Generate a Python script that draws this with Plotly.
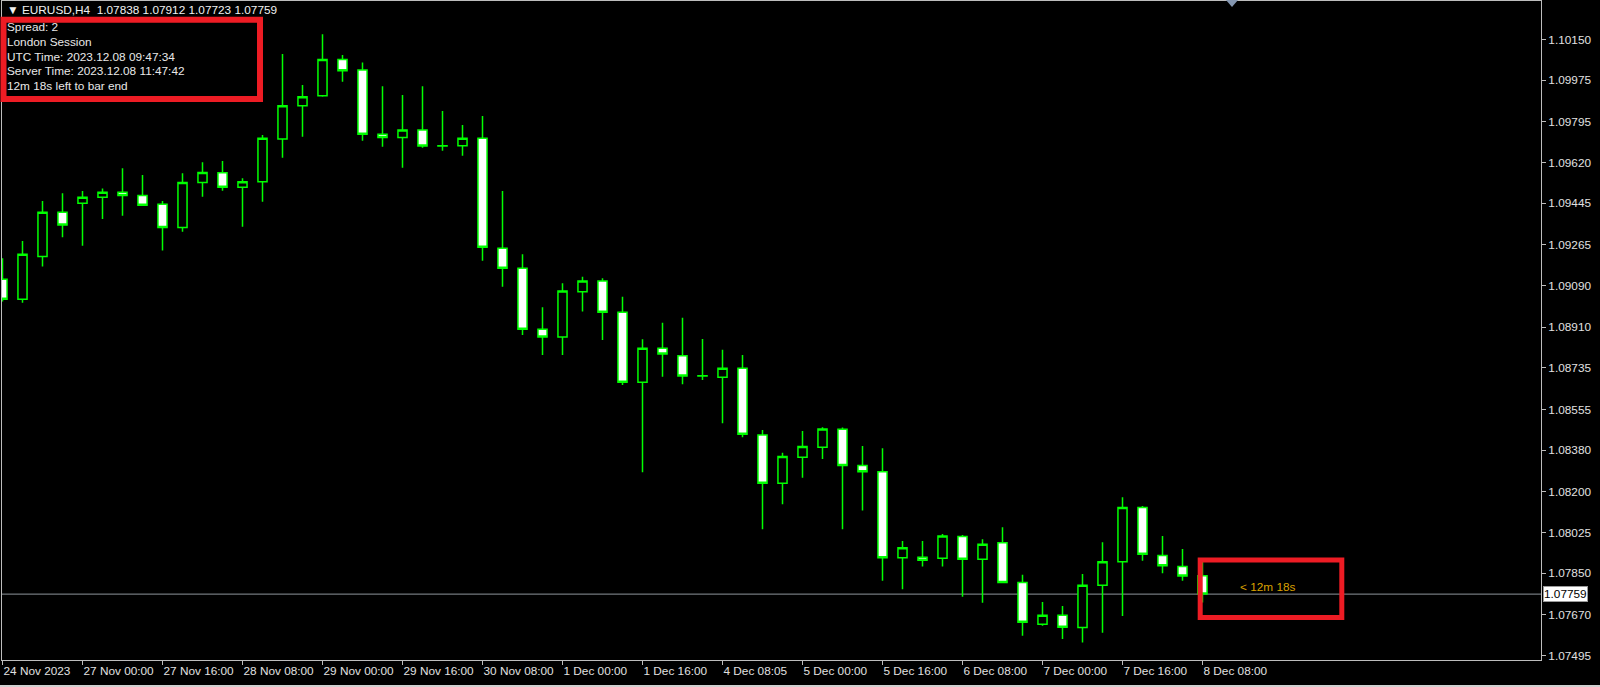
import plotly.graph_objects as go

# ---------------- data ----------------
bar_index = list(range(61))

opens = [1.09116, 1.09030, 1.09215, 1.09405, 1.09444, 1.09470, 1.09491, 1.09477, 1.09440, 1.09340,
         1.09534, 1.09576, 1.09513, 1.09537, 1.09721, 1.09864, 1.09908, 1.10064, 1.10018, 1.09742,
         1.09728, 1.09760, 1.09692, 1.09692, 1.09724, 1.09250, 1.09164, 1.08901, 1.08868, 1.09063,
         1.09109, 1.08974, 1.08672, 1.08819, 1.08787, 1.08699, 1.08694, 1.08733, 1.08445, 1.08237,
         1.08349, 1.08392, 1.08470, 1.08313, 1.08287, 1.07916, 1.07918, 1.07914, 1.08007, 1.07909,
         1.07981, 1.07809, 1.07629, 1.07668, 1.07615, 1.07797, 1.07899, 1.08132, 1.07925, 1.07878,
         1.07838]
highs = [1.09207, 1.09281, 1.09454, 1.09487, 1.09497, 1.09508, 1.09595, 1.09566, 1.09454, 1.09573,
         1.09621, 1.09626, 1.09552, 1.09738, 1.10087, 1.09954, 1.10173, 1.10083, 1.10051, 1.09949,
         1.09911, 1.09949, 1.09842, 1.09781, 1.09820, 1.09497, 1.09224, 1.08996, 1.09099, 1.09127,
         1.09121, 1.09041, 1.08858, 1.08929, 1.08951, 1.08859, 1.08812, 1.08790, 1.08467, 1.08369,
         1.08462, 1.08478, 1.08477, 1.08398, 1.08388, 1.07988, 1.07988, 1.08018, 1.08014, 1.07996,
         1.08047, 1.07842, 1.07725, 1.07708, 1.07846, 1.07983, 1.08177, 1.08139, 1.08010, 1.07954,
         1.07912]
lows = [1.09020, 1.09015, 1.09171, 1.09297, 1.09261, 1.09376, 1.09390, 1.09434, 1.09240, 1.09321,
        1.09472, 1.09498, 1.09343, 1.09451, 1.09640, 1.09731, 1.09903, 1.09968, 1.09714, 1.09688,
        1.09597, 1.09683, 1.09670, 1.09649, 1.09196, 1.09084, 1.08876, 1.08790, 1.08790, 1.08977,
        1.08855, 1.08661, 1.08284, 1.08696, 1.08664, 1.08682, 1.08496, 1.08435, 1.08039, 1.08146,
        1.08261, 1.08342, 1.08039, 1.08119, 1.07817, 1.07780, 1.07878, 1.07878, 1.07748, 1.07722,
        1.07806, 1.07580, 1.07623, 1.07565, 1.07550, 1.07593, 1.07665, 1.07903, 1.07849, 1.07817,
        1.07723]
closes = [1.09030, 1.09224, 1.09405, 1.09350, 1.09470, 1.09491, 1.09477, 1.09436, 1.09340, 1.09534,
          1.09577, 1.09513, 1.09537, 1.09724, 1.09864, 1.09903, 1.10064, 1.10015, 1.09742, 1.09728,
          1.09760, 1.09691, 1.09691, 1.09724, 1.09254, 1.09164, 1.08901, 1.08868, 1.09066, 1.09109,
          1.08974, 1.08672, 1.08819, 1.08794, 1.08699, 1.08700, 1.08733, 1.08448, 1.08237, 1.08352,
          1.08395, 1.08471, 1.08313, 1.08287, 1.07916, 1.07959, 1.07905, 1.08010, 1.07909, 1.07974,
          1.07809, 1.07638, 1.07668, 1.07616, 1.07797, 1.07899, 1.08132, 1.07931, 1.07881, 1.07837,
          1.07759]

x_tick_bars = [0, 4, 8, 12, 16, 20, 24, 28, 32, 36, 40, 44, 48, 52, 56, 60]
x_tick_labels = ["24 Nov 2023", "27 Nov 00:00", "27 Nov 16:00", "28 Nov 08:00", "29 Nov 00:00",
                 "29 Nov 16:00", "30 Nov 08:00", "1 Dec 00:00", "1 Dec 16:00", "4 Dec 08:05",
                 "5 Dec 00:00", "5 Dec 16:00", "6 Dec 08:00", "7 Dec 00:00", "7 Dec 16:00",
                 "8 Dec 08:00"]

y_tick_values = [1.10150, 1.09975, 1.09795, 1.09620, 1.09445, 1.09265, 1.09090, 1.08910,
                 1.08735, 1.08555, 1.08380, 1.08200, 1.08025, 1.07850, 1.07670, 1.07495]
y_tick_labels = ["%.5f" % v for v in y_tick_values]

current_price = 1.07759
title_text = "▼ EURUSD,H4  1.07838 1.07912 1.07723 1.07759"
info_lines = ["Spread: 2", "London Session", "UTC Time: 2023.12.08 09:47:34",
              "Server Time: 2023.12.08 11:47:42", "12m 18s left to bar end"]
countdown_text = "< 12m 18s"

# ---------------- layout helpers ----------------
W, H = 1600, 687
ML, MR, MT, MB = 2, 59, 1, 27
PW, PH = W - ML - MR, H - MT - MB


def px_x(px):
    return (px - ML) / PW


def px_y(py):
    return 1 - (py - MT) / PH


FONT = "Liberation Sans, Arial, sans-serif"
FS = 11.8
GREEN = "#00ff00"
FRAME = "#bdbdbd"

fig = go.Figure()
fig.add_trace(go.Candlestick(
    x=bar_index, open=opens, high=highs, low=lows, close=closes,
    increasing=dict(line=dict(color=GREEN, width=1.5), fillcolor="#000000"),
    decreasing=dict(line=dict(color=GREEN, width=1.5), fillcolor="#ffffff"),
    whiskerwidth=0, hoverinfo="skip", showlegend=False,
))

shapes = []
# current price line
shapes.append(dict(type="line", xref="paper", yref="y", x0=0, x1=1,
                   y0=current_price, y1=current_price,
                   line=dict(color="#8f959c", width=1), layer="below"))
# red highlight boxes
shapes.append(dict(type="rect", xref="paper", yref="paper",
                   x0=px_x(3.5), x1=px_x(260), y0=px_y(19.7), y1=px_y(99),
                   line=dict(color="#ed1c24", width=6)))
shapes.append(dict(type="rect", xref="paper", yref="paper",
                   x0=px_x(1200.2), x1=px_x(1341.8), y0=px_y(560), y1=px_y(617.5),
                   line=dict(color="#ed1c24", width=5)))
# chart shift marker at top
shapes.append(dict(type="path", xref="paper", yref="paper",
                   path="M %f %f L %f %f L %f %f Z" % (px_x(1226), px_y(0), px_x(1238), px_y(0),
                                                       px_x(1232), px_y(7)),
                   fillcolor="#8496b0", line=dict(width=0)))
# window bottom border
shapes.append(dict(type="line", xref="paper", yref="paper",
                   x0=px_x(0), x1=px_x(W), y0=px_y(686), y1=px_y(686),
                   line=dict(color="#d0d0d0", width=2)))

annotations = []
annotations.append(dict(xref="paper", yref="paper", x=px_x(5), y=px_y(10.5),
                        xanchor="left", yanchor="middle", showarrow=False,
                        text=title_text, font=dict(family=FONT, size=FS, color="#f0f0f0")))
for i, line in enumerate(info_lines):
    annotations.append(dict(xref="paper", yref="paper", x=px_x(5), y=px_y(27 + 14.8 * i),
                            xanchor="left", yanchor="middle", showarrow=False,
                            text=line, font=dict(family=FONT, size=FS, color="#e8e8e8")))
annotations.append(dict(xref="x", yref="y", x=bar_index[-1], y=current_price,
                        xanchor="left", yanchor="middle", xshift=35, yshift=7,
                        showarrow=False, text=countdown_text,
                        font=dict(family=FONT, size=FS, color="#d9a100")))
annotations.append(dict(xref="paper", yref="y", x=1, y=current_price,
                        xanchor="left", yanchor="middle", xshift=2, showarrow=False,
                        text="1.07759", bgcolor="#ffffff", bordercolor="#9a9a9a",
                        borderwidth=1, borderpad=0,
                        font=dict(family=FONT, size=FS, color="#000000")))

fig.update_layout(
    width=W, height=H,
    margin=dict(l=ML, r=MR, t=MT, b=MB, pad=0, autoexpand=False),
    paper_bgcolor="#000000", plot_bgcolor="#000000",
    hovermode=False, showlegend=False, boxgap=0.35,
    shapes=shapes, annotations=annotations,
    xaxis=dict(
        range=[-0.025, 76.925], rangeslider=dict(visible=False),
        showgrid=False, zeroline=False, automargin=False,
        showline=True, linecolor=FRAME, linewidth=1, mirror=True,
        ticks="outside", ticklen=4, tickcolor=FRAME, tickangle=0,
        tickvals=x_tick_bars, ticktext=x_tick_labels,
        ticklabelposition="outside right",
        tickfont=dict(family=FONT, size=FS, color="#e0e0e0"),
    ),
    yaxis=dict(
        range=[1.07475, 1.10316], side="right",
        showgrid=False, zeroline=False, automargin=False,
        showline=True, linecolor=FRAME, linewidth=1, mirror=True,
        ticks="outside", ticklen=4, tickcolor=FRAME,
        tickvals=y_tick_values, ticktext=y_tick_labels,
        tickfont=dict(family=FONT, size=FS, color="#e0e0e0"),
    ),
)

fig.write_html(
    "out.html",
    config={"displayModeBar": False},
    post_script="document.body.style.margin='0px';document.body.style.background='#000000';",
)
